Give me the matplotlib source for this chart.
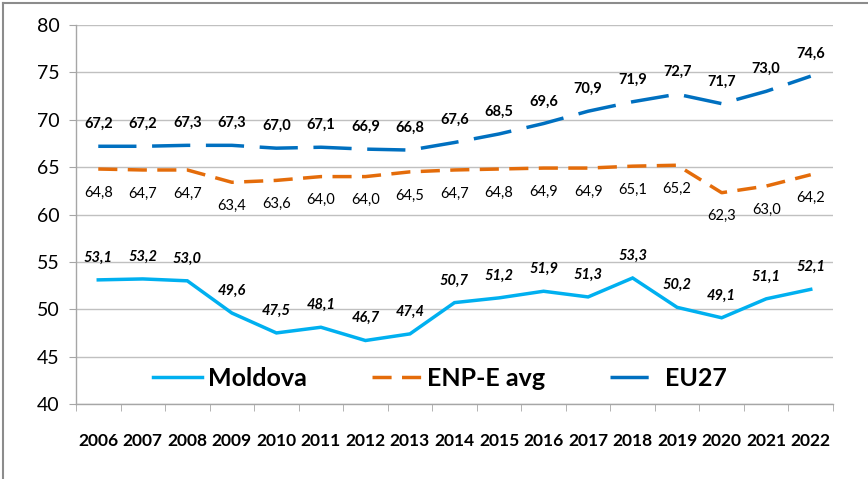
import matplotlib
matplotlib.use("Agg")
import matplotlib.pyplot as plt
from matplotlib.lines import Line2D

years = [str(y) for y in range(2006, 2023)]
moldova = [53.1, 53.2, 53.0, 49.6, 47.5, 48.1, 46.7, 47.4, 50.7, 51.2, 51.9, 51.3, 53.3, 50.2, 49.1, 51.1, 52.1]
enpe = [64.8, 64.7, 64.7, 63.4, 63.6, 64.0, 64.0, 64.5, 64.7, 64.8, 64.9, 64.9, 65.1, 65.2, 62.3, 63.0, 64.2]
eu27 = [67.2, 67.2, 67.3, 67.3, 67.0, 67.1, 66.9, 66.8, 67.6, 68.5, 69.6, 70.9, 71.9, 72.7, 71.7, 73.0, 74.6]
yticks = [40, 45, 50, 55, 60, 65, 70, 75, 80]

plt.rcParams['font.family'] = ['Lato', 'DejaVu Sans']

W, H = 868, 479
fig = plt.figure(figsize=(W / 100, H / 100), dpi=100)
ax = fig.add_axes([76 / W, 1 - 404 / H, (833 - 76) / W, (404 - 25) / H])

# frame around the figure (left and top visible)
fig.add_artist(Line2D([3 / W, 3 / W], [0, 1 - 3 / H], transform=fig.transFigure, color='#8c8c8c', lw=1.5))
fig.add_artist(Line2D([3 / W, 1], [1 - 3 / H, 1 - 3 / H], transform=fig.transFigure, color='#8c8c8c', lw=1.5))

x = list(range(len(years)))
c_mol = '#00B0F0'
c_enp = '#E46C0A'
c_eu = '#0070C0'

ax.plot(x, moldova, color=c_mol, lw=2.5, label='Moldova', solid_joinstyle='miter')
ax.plot(x, enpe, color=c_enp, lw=2.5, dashes=(5.5, 3.0), label='ENP-E avg', dash_capstyle='butt')
ax.plot(x, eu27, color=c_eu, lw=2.5, dashes=(11, 4.5), label='EU27', dash_capstyle='butt')

def fmt(v):
    return f"{v:.1f}".replace('.', ',')

for xi, v in zip(x, eu27):
    ax.annotate(fmt(v), (xi, v), xytext=(0, 16), textcoords='offset points',
                ha='center', va='center', fontsize=10.5, fontweight='bold', color='black')
for xi, v in zip(x, enpe):
    ax.annotate(fmt(v), (xi, v), xytext=(0, -17), textcoords='offset points',
                ha='center', va='center', fontsize=10.5, color='black')
for xi, v in zip(x, moldova):
    ax.annotate(fmt(v), (xi, v), xytext=(0, 16), textcoords='offset points',
                ha='center', va='center', fontsize=10.5, fontweight='bold', fontstyle='italic', color='black')

ax.set_xlim(-0.5, len(years) - 0.5)
ax.set_ylim(40, 80)
ax.set_yticks(yticks)
ax.set_yticklabels([str(t) for t in yticks], fontsize=14)
ax.set_xticks(x)
ax.set_xticklabels(years, fontsize=12.5, fontweight='bold')
ax.set_xticks([i - 0.5 for i in range(len(years) + 1)], minor=True)
ax.tick_params(axis='x', which='major', length=0, pad=21)
ax.tick_params(axis='x', which='minor', length=5, color='#a6a6a6', direction='out')
ax.tick_params(axis='y', length=5, color='#a6a6a6', pad=7)

ax.grid(axis='y', color='#c0c0c0', lw=1)
ax.set_axisbelow(True)
for s in ['top', 'right']:
    ax.spines[s].set_visible(False)
for s in ['left', 'bottom']:
    ax.spines[s].set_color('#a6a6a6')
    ax.spines[s].set_linewidth(1)

leg = ax.legend(loc='center', bbox_to_anchor=((440 - 76) / 757, (404 - 378) / 379),
                ncol=3, frameon=False, prop={'size': 18, 'weight': 'bold'},
                handlelength=1.95, handletextpad=0.25, columnspacing=2.6)

fig.savefig('out.png', dpi=100)
